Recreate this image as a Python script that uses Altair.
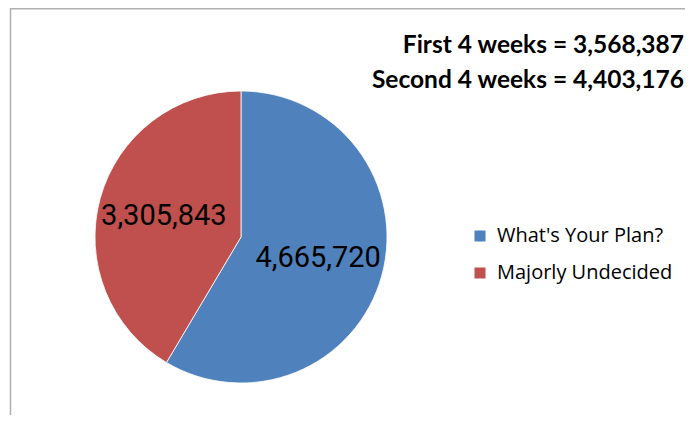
import altair as alt
import pandas as pd

categories = ["What's Your Plan?", "Majorly Undecided"]
values = [4665720, 3305843]
labels = ["4,665,720", "3,305,843"]
colors = ["#4F81BD", "#C0504D"]
title_lines = ["First 4 weeks = 3,568,387", "Second 4 weeks = 4,403,176"]
title_rows = [0, 1]

df = pd.DataFrame({"category": categories, "value": values, "label": labels,
                   "order": list(range(len(categories)))})
tdf = pd.DataFrame({"line": title_lines, "row": title_rows})

color = alt.Color("category:N",
                  scale=alt.Scale(domain=categories, range=colors),
                  sort=categories,
                  legend=alt.Legend(title=None, orient="none", legendX=462, legendY=218,
                                    symbolType="square", symbolSize=121,
                                    symbolStrokeWidth=0,
                                    labelFont="Open Sans", labelFontSize=20,
                                    labelColor="#000000", rowPadding=17,
                                    labelLimit=300,
                                    symbolOffset=0, labelOffset=7))

base = alt.Chart(df).encode(
    theta=alt.Theta("value:Q", stack=True),
    order=alt.Order("order:Q"),
    x=alt.value(233), y=alt.value(229),
)

pie = base.mark_arc(outerRadius=146, stroke="#ffffff", strokeWidth=0.8).encode(color=color)

text = base.mark_text(radius=80, font="Roboto", fontSize=29, color="#000000").encode(text="label:N")

title = alt.Chart(tdf).mark_text(align="right", baseline="alphabetic", font="Lato",
                                 fontWeight="bold", fontSize=24.5, color="#000000").encode(
    text="line:N",
    x=alt.value(676),
    y=alt.Y("row:Q", scale=alt.Scale(domain=[0, 1], range=[45, 80]), axis=None),
)

frame_top = alt.Chart(pd.DataFrame({"a": [0]})).mark_rule(color="#b0b0b0", strokeWidth=1.5).encode(
    x=alt.value(2), x2=alt.value(677), y=alt.value(0.75))
frame_left = alt.Chart(pd.DataFrame({"a": [0]})).mark_rule(color="#b0b0b0", strokeWidth=1.5).encode(
    x=alt.value(2.5), y=alt.value(0), y2=alt.value(407))

chart = alt.layer(frame_top, frame_left, pie, text, title).properties(
    width=677, height=407, padding=0, autosize=alt.AutoSizeParams(type="none"),
    background="#ffffff"
).configure_view(stroke=None)

chart.save("out.html", embed_options={"renderer": "svg", "actions": False})
